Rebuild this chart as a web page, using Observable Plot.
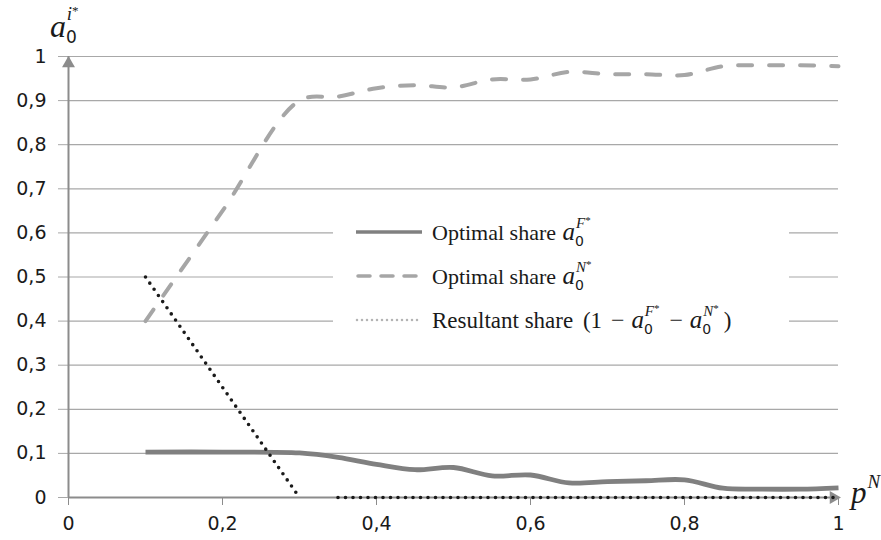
<!DOCTYPE html>
<html>
<head>
<meta charset="utf-8">
<script src="https://cdn.jsdelivr.net/npm/d3@7"></script>
<script src="https://cdn.jsdelivr.net/npm/@observablehq/plot@0.6"></script>
<style>
  html, body { margin: 0; padding: 0; background: #fff; }
  #chart { width: 881px; height: 540px; }
</style>
</head>
<body>
<div id="chart"></div>
<script>
// ---- data ----
const pN = [0.1, 0.2, 0.3, 0.35, 0.4, 0.45, 0.5, 0.55, 0.6, 0.65, 0.7, 0.75, 0.8, 0.85, 0.9, 0.95, 1];
const shareF = [0.103, 0.103, 0.101, 0.091, 0.075, 0.063, 0.068, 0.049, 0.051, 0.033, 0.036, 0.038, 0.040, 0.021, 0.019, 0.019, 0.022];
const shareN = [0.40, 0.65, 0.90, 0.909, 0.928, 0.935, 0.930, 0.948, 0.948, 0.965, 0.960, 0.960, 0.958, 0.978, 0.980, 0.980, 0.978];
const shareR = [0.50, 0.25, 0.00, 0, 0, 0, 0, 0, 0, 0, 0, 0, 0, 0, 0, 0, 0];
const xTicks = [0, 0.2, 0.4, 0.6, 0.8, 1];
const yTicks = [0, 0.1, 0.2, 0.3, 0.4, 0.5, 0.6, 0.7, 0.8, 0.9, 1];
const seriesNames = ["Optimal share", "Optimal share", "Resultant share"];

const rows = pN.map((x, i) => ({x, F: shareF[i], N: shareN[i], R: shareR[i], seg: x <= 0.3 ? "a" : "b"}));
const comma = d => String(d).replace(".", ",");

const axisGray = "#8c8c8c";
const gridGray = "#a8a8a8";

const chart = Plot.plot({
  width: 881,
  height: 540,
  marginLeft: 68,
  marginRight: 43,
  marginTop: 56,
  marginBottom: 43,
  style: {fontFamily: "'DejaVu Sans', sans-serif", fontSize: "19px", color: "#1a1a1a", background: "#fff"},
  x: {domain: [0, 1]},
  y: {domain: [0, 1]},
  marks: [
    Plot.ruleY(yTicks.filter(d => d > 0), {stroke: gridGray, strokeWidth: 1.2}),
    Plot.axisY(yTicks, {tickSize: 10, tickPadding: 12, tickFormat: comma, stroke: gridGray, fill: "#1a1a1a", label: null, fontSize: 19}),
    Plot.axisX(xTicks, {tickSize: 8, tickPadding: 11, tickFormat: comma, stroke: axisGray, fill: "#1a1a1a", label: null, fontSize: 19}),
    Plot.ruleX([0], {stroke: axisGray, strokeWidth: 2}),
    Plot.ruleY([0], {stroke: axisGray, strokeWidth: 2}),
    Plot.dot([{x: 0, y: 1}], {x: "x", y: "y", symbol: "triangle", r: 4.8, fill: axisGray, stroke: "none", dy: 7}),
    Plot.dot([{x: 1, y: 0}], {x: "x", y: "y", symbol: "triangle", r: 4.8, fill: axisGray, stroke: "none", rotate: 90, dx: -5}),
    Plot.line(rows, {x: "x", y: "N", curve: "catmull-rom", stroke: "#a6a6a6", strokeWidth: 4, strokeDasharray: "14,17", strokeLinecap: "round"}),
    Plot.line(rows, {x: "x", y: "F", curve: "catmull-rom", stroke: "#808080", strokeWidth: 4.8, strokeLinecap: "butt"}),
    Plot.line(rows, {x: "x", y: "R", z: "seg", stroke: "#1a1a1a", strokeWidth: 3.6, strokeDasharray: "0,7.5", strokeLinecap: "round"})
  ]
});
document.getElementById("chart").appendChild(chart);

// ---- math labels and legend (text) ----
const svg = d3.select(chart);
const serif = "'Liberation Serif', 'Times New Roman', serif";

function mathText(g, x, y, size, parts) {
  const t = g.append("text").attr("x", x).attr("y", y)
    .attr("text-anchor", "start")
    .attr("font-family", serif).attr("font-size", size).attr("fill", "#1a1a1a");
  let cur = 0;
  for (const p of parts) {
    const off = p.off || 0;
    const ts = t.append("tspan").text(p.t);
    if (off !== cur) ts.attr("dy", off - cur);
    if (p.dx) ts.attr("dx", p.dx);
    if (p.size) ts.attr("font-size", p.size);
    if (p.italic) ts.attr("font-style", "italic");
    if (p.family) ts.attr("font-family", p.family);
    cur = off;
  }
  return t;
}

// y-axis label a_0^{i*}
mathText(svg, 50, 37, 32, [
  {t: "a", italic: true},
  {t: "0", size: 17, off: 6, family: "'DejaVu Sans', sans-serif"},
  {t: "i", size: 19, italic: true, off: -17, dx: -10},
  {t: "*", size: 13, off: -22}
]);

// x-axis label p^N
mathText(svg, 851, 503, 31, [
  {t: "p", italic: true},
  {t: "N", size: 19, italic: true, off: -15, dx: 1}
]);

// legend
const lg = svg.append("g");
lg.append("rect").attr("x", 333).attr("y", 212).attr("width", 456).attr("height", 128).attr("fill", "#fff");
const rowY = [232, 276, 320];
lg.append("line").attr("x1", 356).attr("x2", 422).attr("y1", rowY[0]).attr("y2", rowY[0])
  .attr("stroke", "#808080").attr("stroke-width", 3.5);
lg.append("line").attr("x1", 358).attr("x2", 420).attr("y1", rowY[1]).attr("y2", rowY[1])
  .attr("stroke", "#a6a6a6").attr("stroke-width", 3.5).attr("stroke-dasharray", "12,11").attr("stroke-linecap", "round");
lg.append("line").attr("x1", 357).attr("x2", 422).attr("y1", rowY[2]).attr("y2", rowY[2])
  .attr("stroke", "#b4b4b4").attr("stroke-width", 2.5).attr("stroke-dasharray", "0,5").attr("stroke-linecap", "round");

const sub0 = {t: "0", size: 14, off: 6, family: "'DejaVu Sans', sans-serif"};
function aPart(sup) {
  return [
    {t: "a", italic: true, size: 25, dx: 1},
    sub0,
    {t: sup, size: 15, italic: true, off: -12, dx: -8},
    {t: "*", size: 11, off: -16}
  ];
}
mathText(lg, 432, 240, 22, [{t: seriesNames[0] + " "}, ...aPart("F")]);
mathText(lg, 432, 284, 22, [{t: seriesNames[1] + " "}, ...aPart("N")]);
mathText(lg, 432, 328, 23, [
  {t: seriesNames[2] + " "},
  {t: "(1", dx: 4},
  {t: "−", size: 24, dx: 9},
  {t: " "},
  ...aPart("F"),
  {t: "−", off: 0, dx: 10, size: 24},
  {t: " "},
  ...aPart("N"),
  {t: ")", off: 0, dx: 5}
]);
</script>
</body>
</html>
